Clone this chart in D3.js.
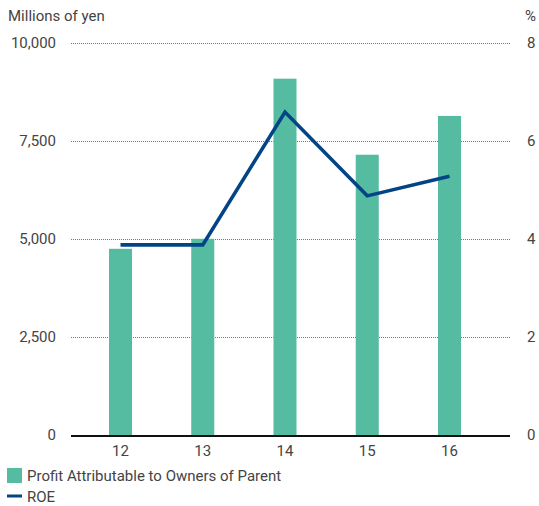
<!DOCTYPE html>
<html>
<head>
<meta charset="utf-8">
<script src="https://cdn.jsdelivr.net/npm/d3@7"></script>
<style>
  html, body { margin: 0; padding: 0; background: #fff; }
  svg { display: block; }
  text { font-family: Roboto, "Liberation Sans", Arial, sans-serif; fill: #444; }
</style>
</head>
<body>
<svg id="chart" width="539" height="506"></svg>
<script>
// Fiscal years (last two digits)
const years = ["12", "13", "14", "15", "16"];
// Profit attributable to owners of parent, millions of yen
const profit = [4750, 5005, 9090, 7150, 8140];
// Return on equity, %
const roe = [3.88, 3.88, 6.59, 4.88, 5.28];
// Axis ticks
const leftTicks = [0, 2500, 5000, 7500, 10000];
const rightTicks = [0, 2, 4, 6, 8];

const FONT = "Roboto, Liberation Sans, Arial, sans-serif";
const FS = 15;
const svg = d3.select("#chart");
const plot = { left: 71, right: 511, top: 43, bottom: 435 };

const x = d3.scaleBand()
  .domain(years)
  .range([109, 461])
  .paddingInner(0.72)
  .paddingOuter(0);

const yL = d3.scaleLinear().domain([0, 10000]).range([plot.bottom, plot.top]);
const yR = d3.scaleLinear().domain([0, 8]).range([plot.bottom, plot.top]);

// Dotted gridlines
svg.append("g")
  .selectAll("line")
  .data(leftTicks.filter(d => d > 0))
  .join("line")
  .attr("x1", plot.left)
  .attr("x2", plot.right)
  .attr("y1", d => yL(d) + 0.5)
  .attr("y2", d => yL(d) + 0.5)
  .attr("stroke", "#777")
  .attr("stroke-width", 1)
  .attr("stroke-dasharray", "1,1");

function styleTicks(g) {
  g.select(".domain").remove();
  g.selectAll("text")
    .attr("font-size", FS)
    .attr("fill", "#444")
    .style("font-family", FONT);
}

// Left axis labels
svg.append("g")
  .attr("transform", `translate(${plot.left - 15},0)`)
  .call(d3.axisLeft(yL).tickValues(leftTicks).tickSize(0).tickPadding(0)
    .tickFormat(d3.format(",")))
  .call(styleTicks);

// Right axis labels
svg.append("g")
  .attr("transform", `translate(${plot.right + 16},0)`)
  .call(d3.axisRight(yR).tickValues(rightTicks).tickSize(0).tickPadding(0))
  .call(styleTicks);

// Bars
svg.append("g")
  .selectAll("rect")
  .data(profit)
  .join("rect")
  .attr("x", (d, i) => x(years[i]))
  .attr("width", x.bandwidth())
  .attr("y", d => yL(d))
  .attr("height", d => yL(0) - yL(d))
  .attr("fill", "#55bca1");

// Baseline
svg.append("line")
  .attr("x1", plot.left)
  .attr("x2", plot.right - 1)
  .attr("y1", plot.bottom + 1)
  .attr("y2", plot.bottom + 1)
  .attr("stroke", "#111")
  .attr("stroke-width", 2.2);

// Bottom axis labels
svg.append("g")
  .attr("transform", `translate(0,${plot.bottom + 10})`)
  .call(d3.axisBottom(x).tickSize(0).tickPadding(0))
  .call(styleTicks);

// ROE line
const line = d3.line()
  .x((d, i) => x(years[i]) + x.bandwidth() / 2)
  .y(d => yR(d));
svg.append("path")
  .datum(roe)
  .attr("d", line)
  .attr("fill", "none")
  .attr("stroke", "#034487")
  .attr("stroke-width", 3.6)
  .attr("stroke-linejoin", "miter");

// Unit titles
svg.append("text").attr("x", 8).attr("y", 21).attr("font-size", FS)
  .text("Millions of yen");
svg.append("text").attr("x", 536).attr("y", 21).attr("font-size", FS)
  .attr("text-anchor", "end").text("%");

// Legend
const legend = svg.append("g");
legend.append("rect").attr("x", 7).attr("y", 468).attr("width", 15).attr("height", 15)
  .attr("fill", "#55bca1");
legend.append("text").attr("x", 27).attr("y", 481).attr("font-size", FS)
  .text("Profit Attributable to Owners of Parent");
legend.append("line").attr("x1", 7).attr("x2", 22).attr("y1", 496).attr("y2", 496)
  .attr("stroke", "#034487").attr("stroke-width", 3);
legend.append("text").attr("x", 27).attr("y", 502).attr("font-size", FS)
  .text("ROE");
</script>
</body>
</html>
